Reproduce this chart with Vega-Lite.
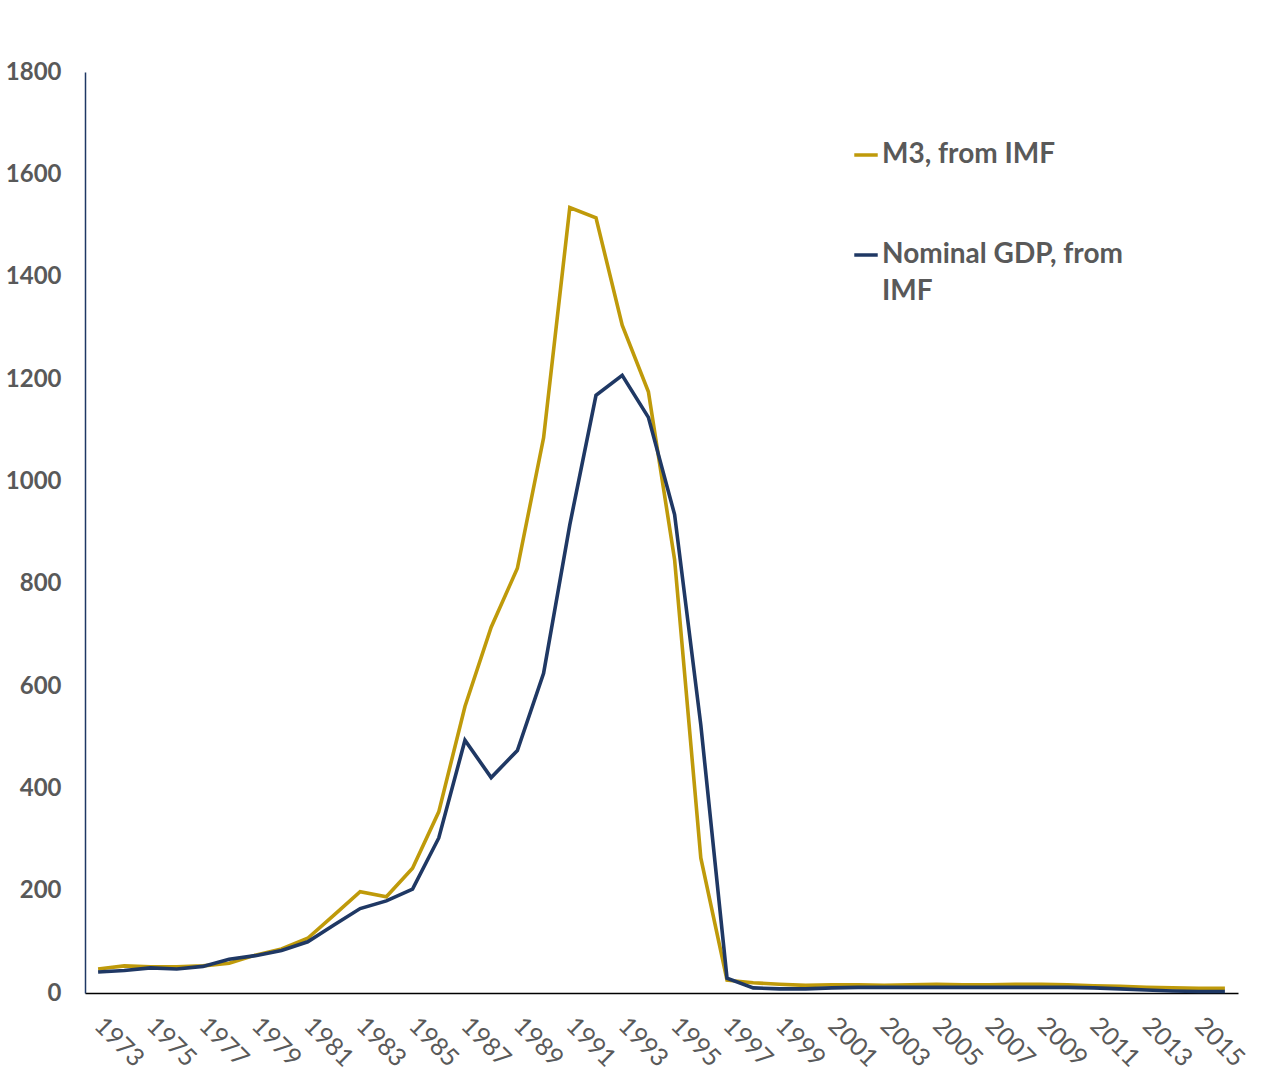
{
  "$schema": "https://vega.github.io/schema/vega-lite/v6.json",
  "background": "white",
  "autosize": "none",
  "padding": {"left": 85, "top": 72, "right": 42, "bottom": 98},
  "width": 1153,
  "height": 921,
  "data": {
    "values": [
      {"year": 1973, "series": "M3, from IMF", "value": 47},
      {"year": 1974, "series": "M3, from IMF", "value": 53},
      {"year": 1975, "series": "M3, from IMF", "value": 51},
      {"year": 1976, "series": "M3, from IMF", "value": 51},
      {"year": 1977, "series": "M3, from IMF", "value": 53},
      {"year": 1978, "series": "M3, from IMF", "value": 58},
      {"year": 1979, "series": "M3, from IMF", "value": 74},
      {"year": 1980, "series": "M3, from IMF", "value": 86},
      {"year": 1981, "series": "M3, from IMF", "value": 107},
      {"year": 1982, "series": "M3, from IMF", "value": 152},
      {"year": 1983, "series": "M3, from IMF", "value": 198},
      {"year": 1984, "series": "M3, from IMF", "value": 188},
      {"year": 1985, "series": "M3, from IMF", "value": 244},
      {"year": 1986, "series": "M3, from IMF", "value": 354},
      {"year": 1987, "series": "M3, from IMF", "value": 560},
      {"year": 1988, "series": "M3, from IMF", "value": 715},
      {"year": 1989, "series": "M3, from IMF", "value": 830},
      {"year": 1990, "series": "M3, from IMF", "value": 1085},
      {"year": 1991, "series": "M3, from IMF", "value": 1535},
      {"year": 1992, "series": "M3, from IMF", "value": 1515},
      {"year": 1993, "series": "M3, from IMF", "value": 1305},
      {"year": 1994, "series": "M3, from IMF", "value": 1175},
      {"year": 1995, "series": "M3, from IMF", "value": 847},
      {"year": 1996, "series": "M3, from IMF", "value": 264},
      {"year": 1997, "series": "M3, from IMF", "value": 25},
      {"year": 1998, "series": "M3, from IMF", "value": 20},
      {"year": 1999, "series": "M3, from IMF", "value": 17},
      {"year": 2000, "series": "M3, from IMF", "value": 15},
      {"year": 2001, "series": "M3, from IMF", "value": 16},
      {"year": 2002, "series": "M3, from IMF", "value": 16},
      {"year": 2003, "series": "M3, from IMF", "value": 15},
      {"year": 2004, "series": "M3, from IMF", "value": 16},
      {"year": 2005, "series": "M3, from IMF", "value": 17},
      {"year": 2006, "series": "M3, from IMF", "value": 16},
      {"year": 2007, "series": "M3, from IMF", "value": 16},
      {"year": 2008, "series": "M3, from IMF", "value": 17},
      {"year": 2009, "series": "M3, from IMF", "value": 17},
      {"year": 2010, "series": "M3, from IMF", "value": 16},
      {"year": 2011, "series": "M3, from IMF", "value": 14},
      {"year": 2012, "series": "M3, from IMF", "value": 13},
      {"year": 2013, "series": "M3, from IMF", "value": 11},
      {"year": 2014, "series": "M3, from IMF", "value": 10},
      {"year": 2015, "series": "M3, from IMF", "value": 9},
      {"year": 2016, "series": "M3, from IMF", "value": 9},
      {"year": 1973, "series": "Nominal GDP, from IMF", "value": 41},
      {"year": 1974, "series": "Nominal GDP, from IMF", "value": 44},
      {"year": 1975, "series": "Nominal GDP, from IMF", "value": 49},
      {"year": 1976, "series": "Nominal GDP, from IMF", "value": 47},
      {"year": 1977, "series": "Nominal GDP, from IMF", "value": 52},
      {"year": 1978, "series": "Nominal GDP, from IMF", "value": 66},
      {"year": 1979, "series": "Nominal GDP, from IMF", "value": 73},
      {"year": 1980, "series": "Nominal GDP, from IMF", "value": 83},
      {"year": 1981, "series": "Nominal GDP, from IMF", "value": 100},
      {"year": 1982, "series": "Nominal GDP, from IMF", "value": 133},
      {"year": 1983, "series": "Nominal GDP, from IMF", "value": 165},
      {"year": 1984, "series": "Nominal GDP, from IMF", "value": 180},
      {"year": 1985, "series": "Nominal GDP, from IMF", "value": 203},
      {"year": 1986, "series": "Nominal GDP, from IMF", "value": 303},
      {"year": 1987, "series": "Nominal GDP, from IMF", "value": 494},
      {"year": 1988, "series": "Nominal GDP, from IMF", "value": 421},
      {"year": 1989, "series": "Nominal GDP, from IMF", "value": 474},
      {"year": 1990, "series": "Nominal GDP, from IMF", "value": 625},
      {"year": 1991, "series": "Nominal GDP, from IMF", "value": 915},
      {"year": 1992, "series": "Nominal GDP, from IMF", "value": 1168},
      {"year": 1993, "series": "Nominal GDP, from IMF", "value": 1207},
      {"year": 1994, "series": "Nominal GDP, from IMF", "value": 1125},
      {"year": 1995, "series": "Nominal GDP, from IMF", "value": 935},
      {"year": 1996, "series": "Nominal GDP, from IMF", "value": 524},
      {"year": 1997, "series": "Nominal GDP, from IMF", "value": 29},
      {"year": 1998, "series": "Nominal GDP, from IMF", "value": 10},
      {"year": 1999, "series": "Nominal GDP, from IMF", "value": 8},
      {"year": 2000, "series": "Nominal GDP, from IMF", "value": 8},
      {"year": 2001, "series": "Nominal GDP, from IMF", "value": 10},
      {"year": 2002, "series": "Nominal GDP, from IMF", "value": 11},
      {"year": 2003, "series": "Nominal GDP, from IMF", "value": 11},
      {"year": 2004, "series": "Nominal GDP, from IMF", "value": 11},
      {"year": 2005, "series": "Nominal GDP, from IMF", "value": 11},
      {"year": 2006, "series": "Nominal GDP, from IMF", "value": 11},
      {"year": 2007, "series": "Nominal GDP, from IMF", "value": 11},
      {"year": 2008, "series": "Nominal GDP, from IMF", "value": 11},
      {"year": 2009, "series": "Nominal GDP, from IMF", "value": 11},
      {"year": 2010, "series": "Nominal GDP, from IMF", "value": 11},
      {"year": 2011, "series": "Nominal GDP, from IMF", "value": 10},
      {"year": 2012, "series": "Nominal GDP, from IMF", "value": 8},
      {"year": 2013, "series": "Nominal GDP, from IMF", "value": 6},
      {"year": 2014, "series": "Nominal GDP, from IMF", "value": 4},
      {"year": 2015, "series": "Nominal GDP, from IMF", "value": 3},
      {"year": 2016, "series": "Nominal GDP, from IMF", "value": 3}
    ]
  },
  "mark": {"type": "line", "strokeWidth": 3.6},
  "encoding": {
    "x": {
      "field": "year",
      "type": "ordinal",
      "title": null,
      "scale": {"padding": 0.5},
      "axis": {
        "values": [1973, 1975, 1977, 1979, 1981, 1983, 1985, 1987, 1989, 1991, 1993, 1995, 1997, 1999, 2001, 2003, 2005, 2007, 2009, 2011, 2013, 2015],
        "labelAngle": 45,
        "labelAlign": "left",
        "labelBaseline": "middle",
        "labelPadding": 28,
        "labelFontSize": 25,
        "labelColor": "#595959",
        "labelFont": "Lato",
        "ticks": false,
        "grid": false,
        "domainColor": "#000000",
        "domainWidth": 1.5
      }
    },
    "y": {
      "field": "value",
      "type": "quantitative",
      "title": null,
      "scale": {"domain": [0, 1800], "nice": false},
      "axis": {
        "values": [0, 200, 400, 600, 800, 1000, 1200, 1400, 1600, 1800],
        "format": "d",
        "labelFontSize": 24,
        "labelFontWeight": "bold",
        "labelColor": "#595959",
        "labelFont": "Lato",
        "labelPadding": 24,
        "ticks": false,
        "grid": false,
        "domainColor": "#1F3864",
        "domainWidth": 1.5
      }
    },
    "color": {
      "field": "series",
      "type": "nominal",
      "scale": {
        "domain": ["M3, from IMF", "Nominal GDP, from IMF"],
        "range": ["#BF9A0A", "#1F3864"]
      },
      "legend": {
        "title": null,
        "orient": "none",
        "legendX": 767,
        "legendY": 69,
        "symbolType": "stroke",
        "symbolSize": 550,
        "symbolStrokeWidth": 3.5,
        "labelFontSize": 28,
        "labelFontWeight": "bold",
        "labelColor": "#595959",
        "labelFont": "Lato",
        "labelOffset": 2,
        "labelLimit": 400,
        "labelBaseline": "middle",
        "rowPadding": 72,
        "labelExpr": "datum.label == 'Nominal GDP, from IMF' ? ['Nominal GDP, from', 'IMF'] : datum.label"
      }
    }
  },
  "config": {
    "view": {"stroke": null},
    "font": "Lato",
    "style": {"guide-label": {"lineHeight": 37}}
  }
}
